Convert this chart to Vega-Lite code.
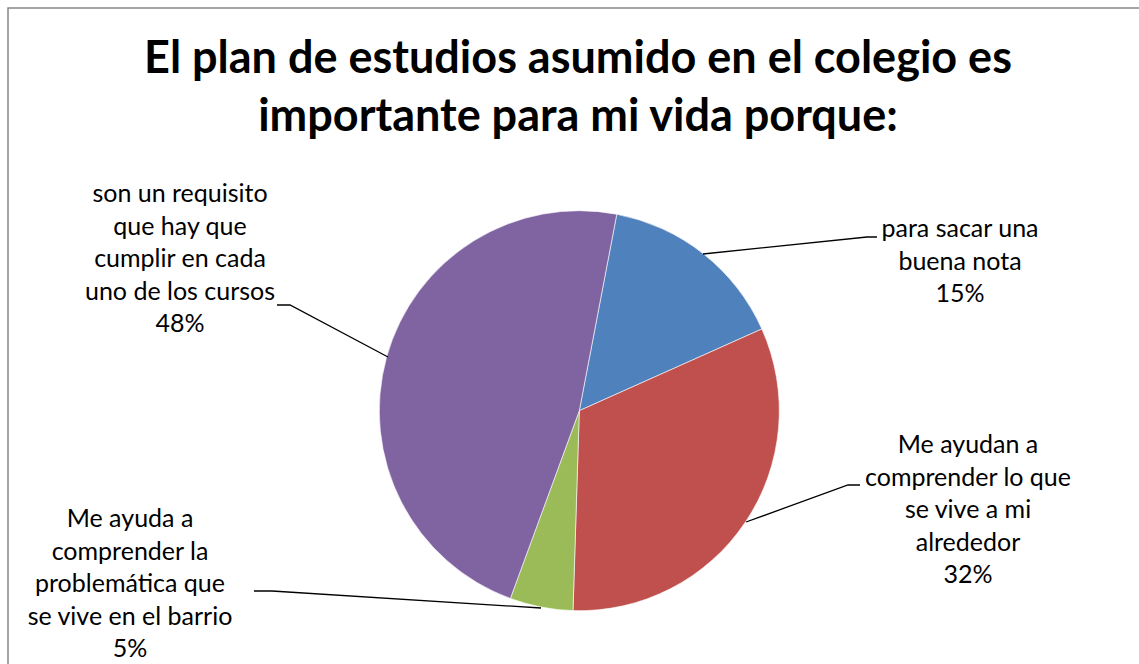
{
  "$schema": "https://vega.github.io/schema/vega-lite/v6.json",
  "width": 1140,
  "height": 664,
  "autosize": {"type": "none"},
  "padding": {"left": 8, "top": 8, "right": 0, "bottom": 0},
  "background": "white",
  "config": {
    "view": {"stroke": "#868686", "strokeWidth": 1.5},
    "font": "Lato"
  },
  "title": {
    "text": ["El plan de estudios asumido en el colegio es", "importante para mi vida porque:"],
    "font": "Lato",
    "fontSize": 45,
    "fontWeight": "bold",
    "color": "#000000",
    "lineHeight": 58,
    "anchor": "middle",
    "baseline": "alphabetic",
    "offset": -168
  },
  "datasets": {
    "slices": [
      {"categoria": "para sacar una buena nota", "valor": 15.3, "orden": 1},
      {"categoria": "Me ayudan a comprender lo que se vive a mi alrededor", "valor": 32.2, "orden": 2},
      {"categoria": "Me ayuda a comprender la problemática que se vive en el barrio", "valor": 5.1, "orden": 3},
      {"categoria": "son un requisito que hay que cumplir en cada uno de los cursos", "valor": 47.4, "orden": 4}
    ],
    "labels": [
      {"etiqueta": "para sacar una\nbuena nota\n15%", "lx": 190.35, "ly": 86.85},
      {"etiqueta": "Me ayudan a\ncomprender lo que\nse vive a mi\nalrededor\n32%", "lx": 194.35, "ly": -21.15},
      {"etiqueta": "Me ayuda a\ncomprender la\nproblemática que\nse vive en el barrio\n5%", "lx": -224.65, "ly": -58.15},
      {"etiqueta": "son un requisito\nque hay que\ncumplir en cada\nuno de los cursos\n48%", "lx": -199.65, "ly": 104.35}
    ],
    "leaders": [
      {"serie": "a", "paso": 1, "lx": 61.85, "ly": 78.35},
      {"serie": "a", "paso": 2, "lx": 143.85, "ly": 86.85},
      {"serie": "a", "paso": 3, "lx": 148.85, "ly": 86.85},
      {"serie": "b", "paso": 1, "lx": 83.35, "ly": -55.65},
      {"serie": "b", "paso": 2, "lx": 134.35, "ly": -37.15},
      {"serie": "b", "paso": 3, "lx": 140.35, "ly": -37.15},
      {"serie": "c", "paso": 1, "lx": -19.15, "ly": -98.65},
      {"serie": "c", "paso": 2, "lx": -153.65, "ly": -90.15},
      {"serie": "c", "paso": 3, "lx": -162.65, "ly": -90.15},
      {"serie": "d", "paso": 1, "lx": -95.65, "ly": 26.85},
      {"serie": "d", "paso": 2, "lx": -144.65, "ly": 52.85},
      {"serie": "d", "paso": 3, "lx": -151.15, "ly": 52.85}
    ]
  },
  "layer": [
    {
      "data": {"name": "slices"},
      "mark": {"type": "arc", "outerRadius": 200, "stroke": "#ffffff", "strokeWidth": 0.6},
      "encoding": {
        "x": {"datum": 0, "type": "quantitative", "scale": {"domain": [-285.65, 284.35], "nice": false, "zero": false}, "axis": null},
        "y": {"datum": 0, "type": "quantitative", "scale": {"domain": [-130.65, 201.35], "nice": false, "zero": false}, "axis": null},
        "theta": {"field": "valor", "type": "quantitative", "stack": true, "scale": {"range": [0.1885, 6.4717]}},
        "order": {"field": "orden", "type": "quantitative"},
        "color": {
          "field": "categoria",
          "type": "nominal",
          "legend": null,
          "scale": {
            "domain": [
              "para sacar una buena nota",
              "Me ayudan a comprender lo que se vive a mi alrededor",
              "Me ayuda a comprender la problemática que se vive en el barrio",
              "son un requisito que hay que cumplir en cada uno de los cursos"
            ],
            "range": ["#4F81BD", "#C0504D", "#9BBB59", "#8064A2"]
          }
        }
      }
    },
    {
      "data": {"name": "leaders"},
      "mark": {"type": "line", "color": "#000000", "strokeWidth": 1.3},
      "encoding": {
        "x": {"field": "lx", "type": "quantitative"},
        "y": {"field": "ly", "type": "quantitative"},
        "detail": {"field": "serie", "type": "nominal"},
        "order": {"field": "paso", "type": "quantitative"}
      }
    },
    {
      "data": {"name": "labels"},
      "mark": {"type": "text", "lineBreak": "\n", "align": "center", "baseline": "alphabetic", "fontSize": 25, "lineHeight": 32.5, "color": "#000000", "font": "Lato"},
      "encoding": {
        "x": {"field": "lx", "type": "quantitative"},
        "y": {"field": "ly", "type": "quantitative"},
        "text": {"field": "etiqueta", "type": "nominal"}
      }
    }
  ]
}
